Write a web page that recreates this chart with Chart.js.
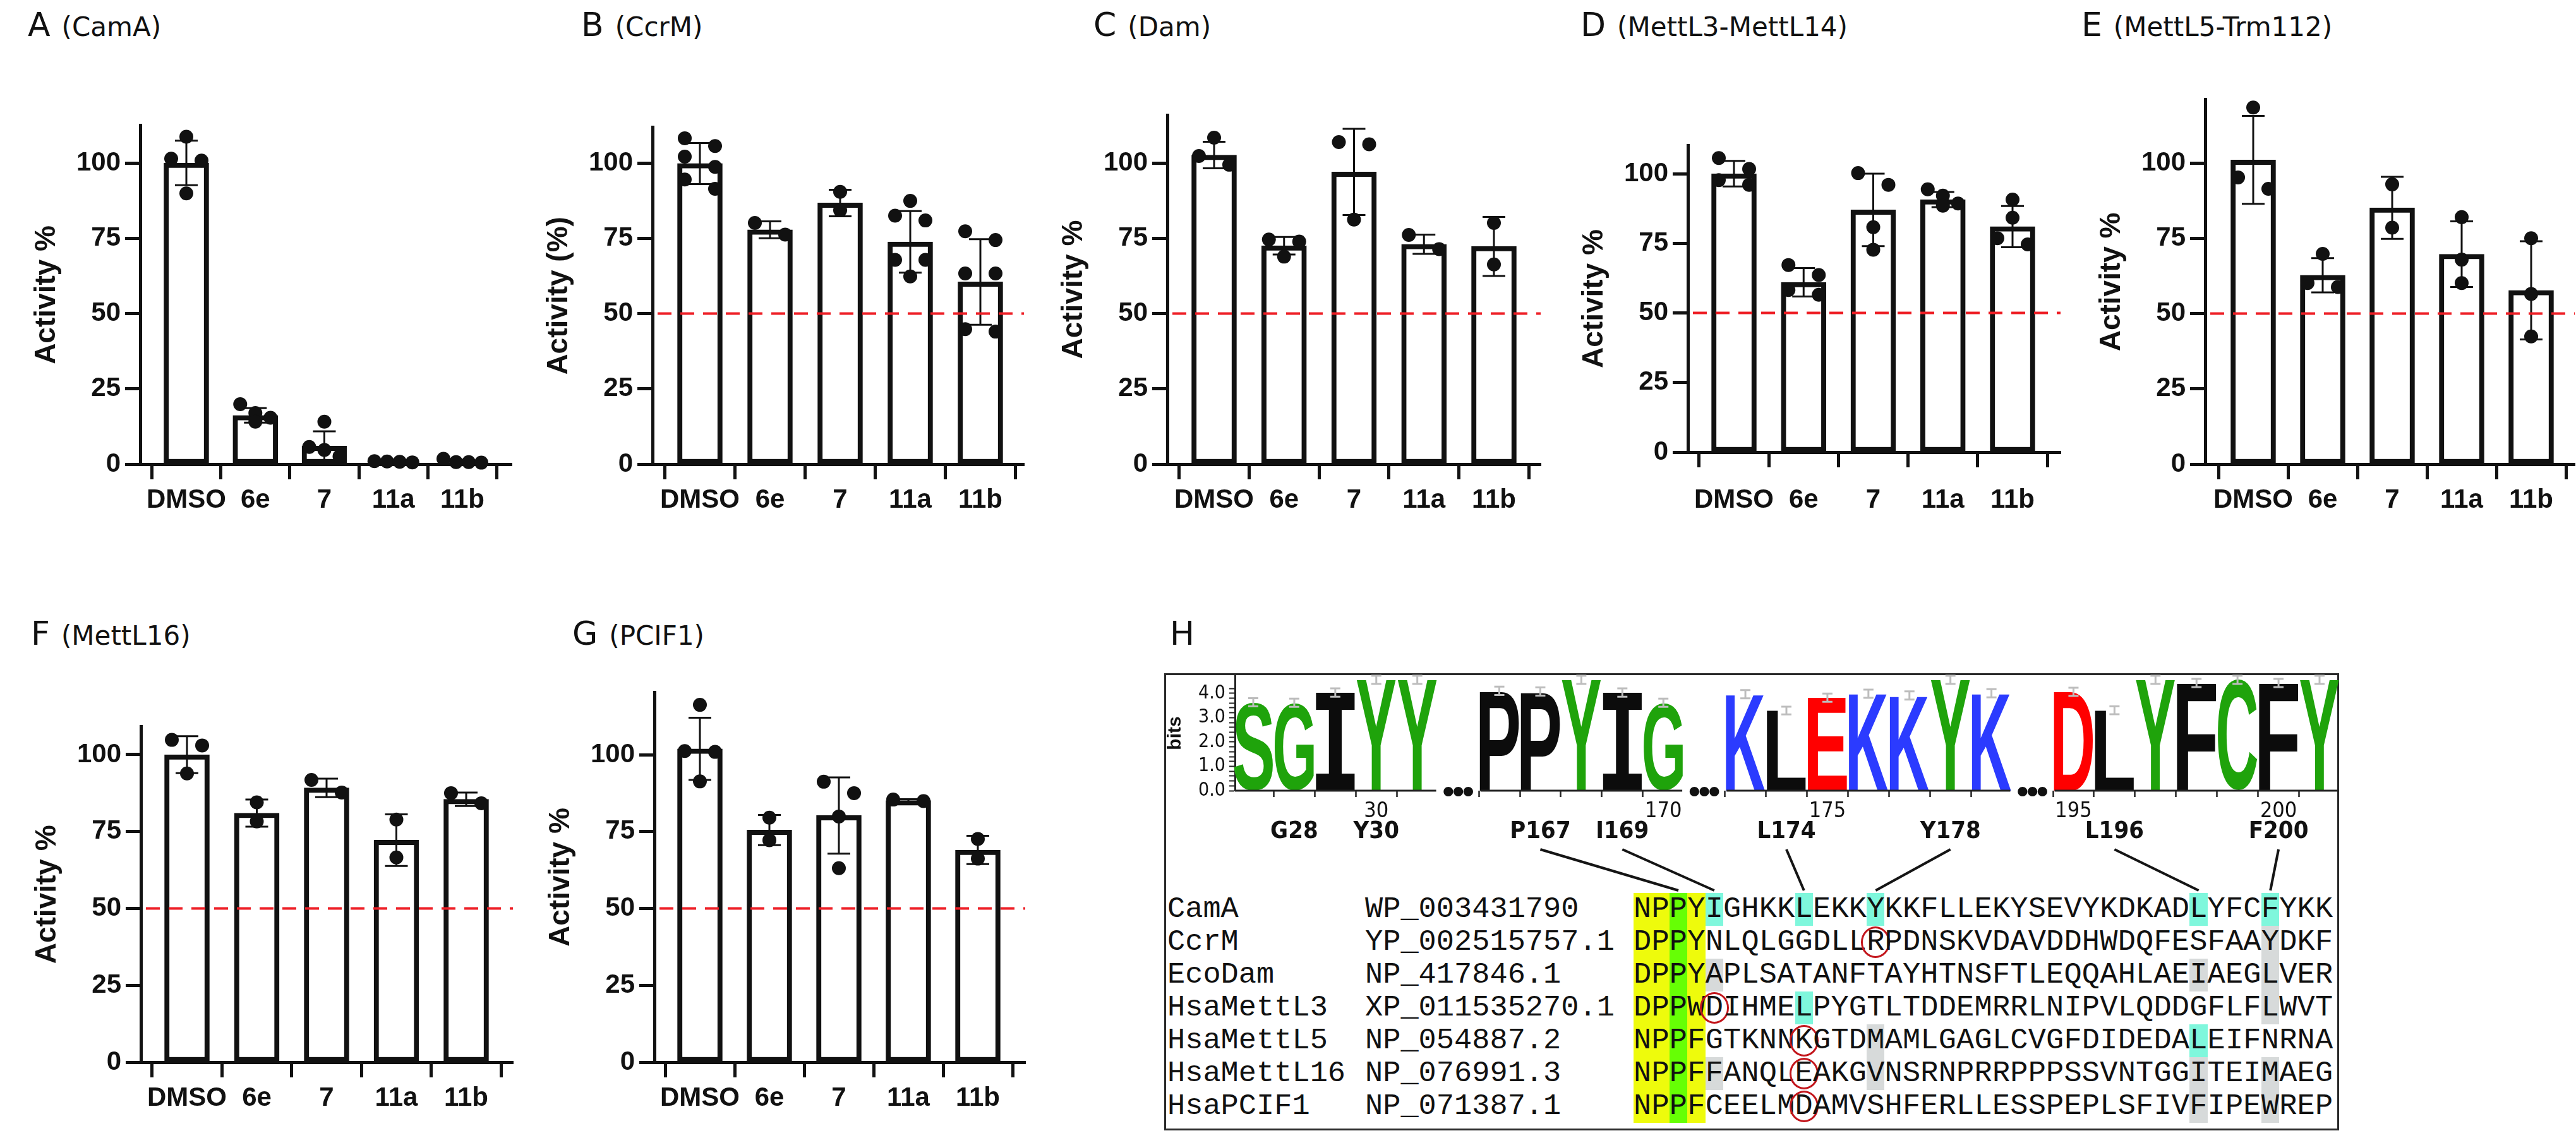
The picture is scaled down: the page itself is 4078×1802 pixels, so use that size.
<!DOCTYPE html>
<html>
<head>
<meta charset="utf-8">
<title>Methyltransferase inhibitor panels</title>
<script src="https://cdn.jsdelivr.net/npm/chart.js@4.4.1/dist/chart.umd.min.js"></script>
<style>
html,body{margin:0;padding:0;background:#fff;}
#page{position:relative;width:4078px;height:1802px;overflow:hidden;background:#fff;}
#page canvas{position:absolute;}
.ttl{position:absolute;display:flex;align-items:baseline;white-space:nowrap;font-family:'DejaVu Sans','Liberation Sans',sans-serif;color:#111;line-height:1;}
.ttl .big{font-size:52px;}
.ttl .sub{font-size:42px;margin-left:18px;}
#hbox{position:absolute;border:3px solid #2b2b2b;box-sizing:border-box;}
.aln{position:absolute;font-family:'Liberation Mono','DejaVu Sans Mono',monospace;font-size:47px;line-height:52px;color:#111;}
.aln .row{position:absolute;left:0;height:52px;white-space:pre;}
.aln .row > span{position:absolute;top:0;}
.aln .row > span.seq{display:flex;}
.aln .seq span{display:block;width:28.4px;height:52px;text-align:center;position:relative;}
.hl-y{background:#eefb0c;}
.hl-g{background:#66ff05;}
.hl-c{background:#7ff7dc;}
.hl-x{background:#d7dada;}
.circ::after{content:'';position:absolute;left:-9px;right:-9px;top:1px;bottom:1px;border:3px solid #c3161c;border-radius:50%;}
</style>
</head>
<body>
<div id="page"><div id="hbox"></div></div>
<script>
// ---------------- data ----------------
const categories = ['DMSO', '6e', '7', '11a', '11b'];
const yTickValues = [0, 25, 50, 75, 100];
const cutoff = 50;

// A (CamA)
const camaMean = [100.0, 16.2, 6.0, 0.8, 0.9];
const camaSd = [7.4, 2.4, 4.9, 0.2, 0.5];
const camaPoints = [[108.7, 101.4, 100.8, 89.9], [19.9, 17.0, 15.4, 14.1], [14.1, 5.7, 4.7, 2.6], [1.0, 0.6, 0.8, 0.9], [0.5, 1.8, 0.7, 0.7]];
// B (CcrM)
const ccrmMean = [99.8, 77.8, 86.7, 73.8, 60.5];
const ccrmSd = [6.8, 2.8, 4.4, 10.2, 14.2];
const ccrmPoints = [[108.2, 105.6, 102.1, 98.7, 94.5, 91.4], [80.1, 76.2], [90.4, 84.3], [87.4, 82.5, 80.9, 67.8, 67.8, 62.3], [77.3, 74.4, 63.3, 63.3, 44.8, 44.0]];
// C (Dam)
const damMean = [102.6, 72.5, 97.0, 73.0, 72.3];
const damSd = [4.4, 2.9, 14.3, 3.2, 9.8];
const damPoints = [[108.4, 102.3, 99.4], [74.6, 73.9, 68.9], [106.9, 106.2, 81.2], [76.1, 71.4], [80.1, 66.3]];
// D (MettL3-MettL14)
const mettl3Mean = [100.0, 61.0, 87.0, 90.7, 81.0];
const mettl3Sd = [4.6, 5.1, 13.0, 2.7, 7.4];
const mettl3Points = [[105.6, 101.7, 97.7, 96.0], [67.2, 63.6, 58.2, 56.5], [100.2, 96.0, 80.8, 72.7], [94.4, 92.1, 89.3, 88.5], [90.7, 84.2, 76.8, 74.6]];
// E (MettL5-Trm112)
const mettl5Mean = [101.0, 62.7, 85.1, 69.7, 57.7];
const mettl5Sd = [14.6, 5.7, 10.3, 10.9, 16.3];
const mettl5Points = [[118.4, 95.2, 91.4], [69.8, 60.1, 58.8], [92.9, 78.5], [82.0, 67.9, 60.1], [75.0, 56.5, 42.4]];
// F (MettL16)
const mettl16Mean = [100.0, 81.0, 89.2, 72.2, 85.5];
const mettl16Sd = [6.0, 4.4, 3.0, 8.4, 2.2];
const mettl16Points = [[104.8, 103.0, 93.9], [84.5, 78.3], [91.8, 87.7], [78.9, 66.6], [87.5, 84.2]];
// G (PCIF1)
const pcif1Mean = [101.9, 75.5, 80.2, 85.1, 69.0];
const pcif1Sd = [10.1, 4.9, 12.4, 0.4, 4.6];
const pcif1Points = [[116.2, 101.2, 100.9, 91.3], [79.5, 72.2], [91.2, 87.5, 79.9, 63.1], [85.4, 84.9], [72.6, 66.2]];

// H: sequence logo
const logoPositions = [27, 28, 29, 30, 31, null, 166, 167, 168, 169, 170, null, 173, 174, 175, 176, 177, 178, 179, null, 195, 196, 197, 198, 199, 200, 201];
const logoLetters = ['S', 'G', 'I', 'Y', 'Y', '', 'P', 'P', 'Y', 'I', 'G', '', 'K', 'L', 'E', 'K', 'K', 'Y', 'K', '', 'D', 'L', 'Y', 'F', 'C', 'F', 'Y'];
const logoBits = [3.63, 3.61, 4.03, 4.55, 4.55, null, 4.10, 4.07, 4.55, 4.03, 3.61, null, 3.96, 3.29, 3.82, 3.98, 3.91, 4.55, 4.00, null, 4.06, 3.30, 4.55, 4.42, 4.55, 4.42, 4.55];
const logoErr = [0.17, 0.17, 0.17, 0.17, 0.17, null, 0.17, 0.17, 0.17, 0.17, 0.17, null, 0.17, 0.16, 0.17, 0.17, 0.17, 0.17, 0.17, null, 0.17, 0.16, 0.17, 0.17, 0.17, 0.17, 0.17];
const residueLabels = ['G28', 'Y30', 'P167', 'I169', 'L174', 'Y178', 'L196', 'F200'];
const residueNums = [28, 30, 167, 169, 174, 178, 196, 200];
const residueAlignCol = [null, null, 3, 5, 10, 14, 32, 36];

// H: alignment
const alignNames = ['CamA', 'CcrM', 'EcoDam', 'HsaMettL3', 'HsaMettL5', 'HsaMettL16', 'HsaPCIF1'];
const alignAcc = ['WP_003431790', 'YP_002515757.1', 'NP_417846.1', 'XP_011535270.1', 'NP_054887.2', 'NP_076991.3', 'NP_071387.1'];
const alignSeq = [
  'NPPYIGHKKLEKKYKKFLLEKYSEVYKDKADLYFCFYKK',
  'DPPYNLQLGGDLLRPDNSKVDAVDDHWDQFESFAAYDKF',
  'DPPYAPLSATANFTAYHTNSFTLEQQAHLAEIAEGLVER',
  'DPPWDIHMELPYGTLTDDEMRRLNIPVLQDDGFLFLWVT',
  'NPPFGTKNNKGTDMAMLGAGLCVGFDIDEDALEIFNRNA',
  'NPPFFANQLEAKGVNSRNPRRPPPSSVNTGGITEIMAEG',
  'NPPFCEELMDAMVSHFERLLESSPEPLSFIVFIPEWREP'
];
const motifYellowCols = [1, 2, 4];
const motifGreenCols = [3];
const cyanCells = [[0, 5], [0, 10], [0, 14], [0, 32], [0, 36], [3, 10], [4, 32]];
const grayCells = [[1, 36], [2, 5], [2, 32], [2, 36], [3, 36], [4, 14], [5, 5], [5, 14], [5, 32], [5, 36], [6, 32], [6, 36]];
const circledCells = [[1, 14], [3, 5], [4, 10], [5, 10], [6, 10]];

// ---------------- layout / style ----------------
const page = document.getElementById('page');
Chart.defaults.font.family = "'Liberation Sans', Arial, sans-serif";
Chart.defaults.color = '#111';
const INK = '#111';
const W_Y = 175, H_X = 110, PAD_T = 40, PAD_R = 12;

const barPanels = [
  {letter: 'A', sub: '(CamA)', yTitle: 'Activity %', mean: camaMean, sd: camaSd, pts: camaPoints, ref: null,
   lay: {axisX: 222, c1: 295, c5: 732, xEnd: 810, y0: 735, ppu: 4.77, yMax: 112.4, labelPad: 8, titleX: 44, titleBase: 57}},
  {letter: 'B', sub: '(CcrM)', yTitle: 'Activity (%)', mean: ccrmMean, sd: ccrmSd, pts: ccrmPoints, ref: cutoff,
   lay: {axisX: 1033, c1: 1108, c5: 1552, xEnd: 1621, y0: 735, ppu: 4.77, yMax: 111.8, labelPad: 8, titleX: 920, titleBase: 57}},
  {letter: 'C', sub: '(Dam)', yTitle: 'Activity %', mean: damMean, sd: damSd, pts: damPoints, ref: cutoff,
   lay: {axisX: 1848, c1: 1922, c5: 2365, xEnd: 2439, y0: 735, ppu: 4.77, yMax: 115.9, labelPad: 8, titleX: 1731, titleBase: 57}},
  {letter: 'D', sub: '(MettL3-MettL14)', yTitle: 'Activity %', mean: mettl3Mean, sd: mettl3Sd, pts: mettl3Points, ref: cutoff,
   lay: {axisX: 2672, c1: 2745, c5: 3186, xEnd: 3262, y0: 716, ppu: 4.41, yMax: 110.2, labelPad: 27, titleX: 2502, titleBase: 57}},
  {letter: 'E', sub: '(MettL5-Trm112)', yTitle: 'Activity %', mean: mettl5Mean, sd: mettl5Sd, pts: mettl5Points, ref: cutoff,
   lay: {axisX: 3491, c1: 3567, c5: 4007, xEnd: 4076, y0: 735, ppu: 4.77, yMax: 121.0, labelPad: 8, titleX: 3295, titleBase: 57}},
  {letter: 'F', sub: '(MettL16)', yTitle: 'Activity %', mean: mettl16Mean, sd: mettl16Sd, pts: mettl16Points, ref: cutoff,
   lay: {axisX: 223, c1: 296, c5: 738, xEnd: 812, y0: 1682, ppu: 4.87, yMax: 109.1, labelPad: 8, titleX: 49, titleBase: 1021}},
  {letter: 'G', sub: '(PCIF1)', yTitle: 'Activity %', mean: pcif1Mean, sd: pcif1Sd, pts: pcif1Points, ref: cutoff,
   lay: {axisX: 1036, c1: 1108, c5: 1548, xEnd: 1623, y0: 1682, ppu: 4.87, yMax: 120.3, labelPad: 8, titleX: 906, titleBase: 1021}}
];

const HBOX = {left: 1843, top: 1066, right: 3703, bottom: 1790, labelX: 1852, labelBase: 1021};
const LOGO = {left: 1843, right: 3710, top: 1046, bottom: 1420, axisX: 1955, areaTop: 1066, y0: 1252, yMax: 4.72,
              slot0: 1984, slotEnd: 3672, areaRight: 3701, resLabelY: 1317, lineTopY: 1345, lineBotY: 1410};
const ALN = {left: 1848, top: 1414, rowH: 52, accLeft: 2161, seqLeft: 2586, stride: 28.4};

const aaColor = {S: '#1fa30b', G: '#1fa30b', Y: '#1fa30b', C: '#1fa30b', T: '#1fa30b',
  I: '#0c0c0c', P: '#0c0c0c', L: '#0c0c0c', F: '#0c0c0c', A: '#0c0c0c', W: '#0c0c0c', M: '#0c0c0c', V: '#0c0c0c',
  K: '#2b3bff', R: '#2b3bff', H: '#2b3bff', D: '#ff0000', E: '#ff0000', N: '#b000b0', Q: '#b000b0'};

// ---------------- helpers ----------------
function addTitle(letter, sub, x, base) {
  const d = document.createElement('div');
  d.className = 'ttl';
  d.style.left = x + 'px';
  d.style.top = (base - 44) + 'px';
  const b = document.createElement('span'); b.className = 'big'; b.textContent = letter; d.appendChild(b);
  if (sub) { const s = document.createElement('span'); s.className = 'sub'; s.textContent = sub; d.appendChild(s); }
  page.appendChild(d);
}

// dot-plot arrangement: points closer than ~one diameter are spread side by side
function arrangePoints(vals, ppu, pxPerX) {
  const sorted = vals.slice().sort((a, b) => b - a);
  const groups = [];
  sorted.forEach(v => {
    const g = groups[groups.length - 1];
    if (g && (g[0] - v) * ppu < 23) g.push(v); else groups.push([v]);
  });
  const out = [];
  groups.forEach(g => {
    const n = g.length;
    const half = n === 1 ? 0 : (n <= 3 ? 24 : 30);
    g.forEach((v, i) => {
      const dx = n === 1 ? 0 : -half + 2 * half * i / (n - 1);
      out.push({dx: dx / pxPerX, v});
    });
  });
  return out;
}

const errorBarPlugin = {
  id: 'errBars',
  afterDatasetDraw(chart, args) {
    if (args.meta.type !== 'bar') return;
    const ds = chart.data.datasets[args.index];
    const {ctx, scales: {x, y}} = chart;
    ctx.save();
    ctx.strokeStyle = INK; ctx.lineWidth = 3; ctx.lineCap = 'butt';
    ds.data.forEach((d, i) => {
      const e = ds.errors[i];
      const px = x.getPixelForValue(d.x);
      const yt = y.getPixelForValue(d.y + e), yb = y.getPixelForValue(d.y - e);
      ctx.beginPath();
      ctx.moveTo(px, yt); ctx.lineTo(px, yb);
      ctx.moveTo(px - 18, yt); ctx.lineTo(px + 18, yt);
      ctx.moveTo(px - 18, yb); ctx.lineTo(px + 18, yb);
      ctx.stroke();
    });
    ctx.restore();
  }
};

const refLinePlugin = {
  id: 'refLine',
  afterDatasetsDraw(chart, args, opts) {
    if (opts.value === null || opts.value === undefined || opts.value === false) return;
    const {ctx, chartArea, scales: {y}} = chart;
    const py = y.getPixelForValue(opts.value);
    ctx.save();
    ctx.strokeStyle = '#ee1d24'; ctx.lineWidth = 4; ctx.setLineDash([22, 14]);
    ctx.beginPath(); ctx.moveTo(chartArea.left + 8, py); ctx.lineTo(chartArea.right, py); ctx.stroke();
    ctx.restore();
  }
};

function buildBarPanel(p) {
  const L = p.lay;
  const yTop = L.y0 - L.yMax * L.ppu;
  const left = L.axisX - W_Y;
  const top = Math.round(yTop - PAD_T);
  const padT = yTop - top;
  const width = Math.round(L.xEnd + PAD_R - left);
  const height = Math.round(L.y0 + H_X - top);
  const cv = document.createElement('canvas');
  cv.width = width; cv.height = height;
  cv.style.left = left + 'px'; cv.style.top = top + 'px';
  page.appendChild(cv);
  const s = (L.c5 - L.c1) / 4;
  const xMin = 1 - (L.c1 - L.axisX) / s;
  const xMax = 5 + (L.xEnd - L.c5) / s;
  const pointData = [];
  p.pts.forEach((vals, i) => {
    arrangePoints(vals, L.ppu, s).forEach(pt => pointData.push({x: i + 1 + pt.dx, y: pt.v}));
  });
  new Chart(cv, {
    type: 'bar',
    data: {datasets: [
      {type: 'scatter', data: pointData, pointRadius: 11, pointHoverRadius: 11, backgroundColor: INK, borderWidth: 0, clip: false},
      {type: 'bar', data: p.mean.map((m, i) => ({x: i + 1, y: m})), errors: p.sd,
       backgroundColor: '#ffffff', borderColor: INK, borderWidth: 8, borderSkipped: false, barThickness: 71, clip: false}
    ]},
    options: {
      responsive: false, animation: false, events: [], devicePixelRatio: 1,
      layout: {padding: {top: padT, right: PAD_R, left: 0, bottom: 0}},
      plugins: {legend: {display: false}, tooltip: {enabled: false}, refLine: {value: p.ref}},
      scales: {
        x: {type: 'linear', min: xMin, max: xMax, offset: false,
            afterBuildTicks: sc => { sc.ticks = categories.map((c, i) => ({value: i + 1})); },
            afterFit: sc => { sc.height = H_X; },
            ticks: {callback: v => categories[Math.round(v) - 1] || '', font: {size: 42, weight: 'bold'}, padding: L.labelPad,
                    autoSkip: false, maxRotation: 0, color: INK},
            grid: {drawOnChartArea: false, drawTicks: true, tickLength: 24, tickWidth: 5, tickColor: INK},
            border: {display: true, width: 5, color: INK}},
        y: {type: 'linear', min: 0, max: L.yMax,
            afterBuildTicks: sc => { sc.ticks = yTickValues.map(v => ({value: v})); },
            afterFit: sc => { sc.width = W_Y; },
            ticks: {font: {size: 42, weight: 'bold'}, padding: 7, color: INK},
            grid: {drawOnChartArea: false, drawTicks: true, tickLength: 24, tickWidth: 5, tickColor: INK},
            border: {display: true, width: 5, color: INK},
            title: {display: true, text: p.yTitle, font: {size: 46, weight: 'bold'}, padding: 0, color: INK}}
      }
    },
    plugins: [errorBarPlugin, refLinePlugin]
  });
  addTitle(p.letter, p.sub, L.titleX, L.titleBase);
}

barPanels.forEach(buildBarPanel);

// ---------------- panel H ----------------
addTitle('H', null, HBOX.labelX, HBOX.labelBase);
const hbox = document.getElementById('hbox');
hbox.style.left = HBOX.left + 'px';
hbox.style.top = HBOX.top + 'px';
hbox.style.width = (HBOX.right - HBOX.left) + 'px';
hbox.style.height = (HBOX.bottom - HBOX.top) + 'px';

// alignment text
(function buildAlignment() {
  const key = (r, c) => r + ',' + c;
  const cyan = new Set(cyanCells.map(a => key(a[0], a[1])));
  const gray = new Set(grayCells.map(a => key(a[0], a[1])));
  const circ = new Set(circledCells.map(a => key(a[0], a[1])));
  const box = document.createElement('div');
  box.className = 'aln';
  box.style.left = ALN.left + 'px';
  box.style.top = ALN.top + 'px';
  alignNames.forEach((nm, r) => {
    const row = document.createElement('div');
    row.className = 'row';
    row.style.top = (r * ALN.rowH) + 'px';
    const n = document.createElement('span'); n.textContent = nm; n.style.left = '0px'; row.appendChild(n);
    const a = document.createElement('span'); a.textContent = alignAcc[r]; a.style.left = (ALN.accLeft - ALN.left) + 'px'; row.appendChild(a);
    const sq = document.createElement('span'); sq.className = 'seq'; sq.style.left = (ALN.seqLeft - ALN.left) + 'px';
    [...alignSeq[r]].forEach((ch, i) => {
      const c = i + 1;
      const sp = document.createElement('span');
      sp.textContent = ch;
      if (motifYellowCols.includes(c)) sp.classList.add('hl-y');
      else if (motifGreenCols.includes(c)) sp.classList.add('hl-g');
      else if (cyan.has(key(r, c))) sp.classList.add('hl-c');
      else if (gray.has(key(r, c))) sp.classList.add('hl-x');
      if (circ.has(key(r, c))) sp.classList.add('circ');
      sq.appendChild(sp);
    });
    row.appendChild(sq);
    box.appendChild(row);
  });
  page.appendChild(box);
})();

// sequence logo
function drawGlyph(ctx, ch, x0, y0, w, h, color) {
  const fam = ch === 'I' ? "'DejaVu Sans Mono', monospace" : "'Liberation Sans', Arial, sans-serif";
  ctx.save();
  ctx.font = 'bold 200px ' + fam;
  ctx.textAlign = 'left'; ctx.textBaseline = 'alphabetic';
  const m = ctx.measureText(ch);
  const gw = m.actualBoundingBoxLeft + m.actualBoundingBoxRight;
  const gh = m.actualBoundingBoxAscent + m.actualBoundingBoxDescent;
  ctx.translate(x0, y0);
  ctx.scale(w / gw, h / gh);
  ctx.fillStyle = color;
  ctx.fillText(ch, m.actualBoundingBoxLeft, m.actualBoundingBoxAscent);
  ctx.restore();
}

const logoPlugin = {
  id: 'logoGlyphs',
  afterDatasetsDraw(chart) {
    const {ctx, scales: {x, y}} = chart;
    const ds = chart.data.datasets[0];
    const meta = chart.getDatasetMeta(0);
    meta.data.forEach((el, k) => {
      const i = ds.data[k].x;
      const pr = el.getProps(['x', 'y', 'base', 'width'], true);
      drawGlyph(ctx, logoLetters[i], pr.x - pr.width / 2, pr.y, pr.width, pr.base - pr.y, aaColor[logoLetters[i]] || '#000');
    });
    // small-sample error bars
    ctx.save();
    ctx.strokeStyle = '#bdbdbd'; ctx.lineWidth = 3;
    ds.data.forEach(d => {
      const e = logoErr[d.x];
      const px = x.getPixelForValue(d.x);
      const yt = y.getPixelForValue(d.y + e), yb = y.getPixelForValue(d.y - e);
      ctx.beginPath();
      ctx.moveTo(px, yt); ctx.lineTo(px, yb);
      ctx.moveTo(px - 8, yt); ctx.lineTo(px + 8, yt);
      ctx.moveTo(px - 8, yb); ctx.lineTo(px + 8, yb);
      ctx.stroke();
    });
    ctx.restore();
    // baseline segments and gap ellipses
    const y0 = y.getPixelForValue(0);
    const step = x.getPixelForValue(1) - x.getPixelForValue(0);
    ctx.save();
    ctx.strokeStyle = '#222'; ctx.lineWidth = 3;
    let start = null;
    for (let i = 0; i <= logoPositions.length; i++) {
      const has = i < logoPositions.length && logoPositions[i] !== null;
      if (has && start === null) start = i;
      if (!has && start !== null) {
        const xa = start === 0 ? chart.chartArea.left : x.getPixelForValue(start) - 0.46 * step;
        const xb = x.getPixelForValue(i - 1) + 0.46 * step;
        ctx.beginPath(); ctx.moveTo(xa, y0); ctx.lineTo(xb, y0); ctx.stroke();
        start = null;
      }
    }
    ctx.fillStyle = '#111';
    ctx.font = "bold 100px Lato, 'DejaVu Sans', sans-serif";
    ctx.textAlign = 'center'; ctx.textBaseline = 'alphabetic';
    if ('letterSpacing' in ctx) ctx.letterSpacing = '-8px';
    logoPositions.forEach((p, i) => {
      if (p === null) ctx.fillText('...', x.getPixelForValue(i) - 4, y0 + 8);
    });
    ctx.restore();
  },
  afterDraw(chart) {
    const {ctx, scales: {x}} = chart;
    ctx.save();
    ctx.fillStyle = '#111';
    ctx.font = "bold 38px 'Liberation Sans Narrow', 'DejaVu Sans Condensed', 'Liberation Sans', sans-serif";
    ctx.textAlign = 'center'; ctx.textBaseline = 'middle';
    ctx.strokeStyle = '#151515'; ctx.lineWidth = 4;
    residueLabels.forEach((lab, k) => {
      const slot = logoPositions.indexOf(residueNums[k]);
      const lx = x.getPixelForValue(slot);
      ctx.fillText(lab, lx, LOGO.resLabelY - LOGO.top);
      const col = residueAlignCol[k];
      if (col !== null) {
        const ex = ALN.seqLeft - LOGO.left + (col - 0.5) * ALN.stride;
        ctx.beginPath();
        ctx.moveTo(lx, LOGO.lineTopY - LOGO.top);
        ctx.lineTo(ex, LOGO.lineBotY - LOGO.top);
        ctx.stroke();
      }
    });
    ctx.restore();
  }
};

(function buildLogo() {
  const cv = document.createElement('canvas');
  cv.width = LOGO.right - LOGO.left;
  cv.height = LOGO.bottom - LOGO.top;
  cv.style.left = LOGO.left + 'px';
  cv.style.top = LOGO.top + 'px';
  page.appendChild(cv);
  const wy = LOGO.axisX - LOGO.left;
  const hx = 60;
  const stride = (LOGO.slotEnd - LOGO.slot0) / (logoPositions.length - 1);
  const xMin = -(LOGO.slot0 - LOGO.axisX) / stride;
  const xMax = (logoPositions.length - 1) + (LOGO.areaRight - LOGO.slotEnd) / stride;
  const narrow = "'Liberation Sans Narrow', 'DejaVu Sans Condensed', 'Liberation Sans', sans-serif";
  new Chart(cv, {
    type: 'bar',
    data: {datasets: [{
      data: logoBits.map((b, i) => (b === null ? null : {x: i, y: b})).filter(d => d !== null),
      backgroundColor: 'rgba(0,0,0,0)', borderWidth: 0, barThickness: 62, clip: false
    }]},
    options: {
      responsive: false, animation: false, events: [], devicePixelRatio: 1,
      layout: {padding: {top: LOGO.areaTop - LOGO.top, right: LOGO.right - LOGO.areaRight, left: 0, bottom: LOGO.bottom - LOGO.y0 - hx}},
      plugins: {legend: {display: false}, tooltip: {enabled: false}},
      scales: {
        x: {type: 'linear', min: xMin, max: xMax, offset: false,
            afterBuildTicks: sc => { sc.ticks = logoPositions.map((p, i) => ({value: i})); },
            afterFit: sc => { sc.height = hx; },
            ticks: {callback: v => { const p = logoPositions[Math.round(v)]; return (p !== null && p !== undefined && p % 5 === 0) ? String(p) : ''; },
                    font: {family: narrow, size: 34}, padding: 3, autoSkip: false, maxRotation: 0, color: INK},
            grid: {drawOnChartArea: false, drawTicks: true, tickLength: 10, tickWidth: 2.5,
                   tickColor: c => (c.tick && logoPositions[Math.round(c.tick.value)] === null) ? 'rgba(0,0,0,0)' : '#222'},
            border: {display: false}},
        y: {type: 'linear', min: 0, max: LOGO.yMax,
            afterBuildTicks: sc => { const t = []; for (let k = 0; k <= 21; k++) t.push({value: k / 5}); sc.ticks = t; },
            afterFit: sc => { sc.width = wy; },
            ticks: {callback: v => (Math.abs(v - Math.round(v)) < 1e-6 ? v.toFixed(1) : ''), font: {family: narrow, size: 30},
                    padding: 6, autoSkip: false, color: INK},
            grid: {drawOnChartArea: false, drawTicks: true, tickLength: 9, tickWidth: 2, tickColor: '#222'},
            border: {display: true, width: 3, color: '#222'},
            title: {display: true, text: 'bits', font: {size: 30, weight: 'bold'}, padding: 0, color: INK}}
      }
    },
    plugins: [logoPlugin]
  });
})();
</script>
</body>
</html>
